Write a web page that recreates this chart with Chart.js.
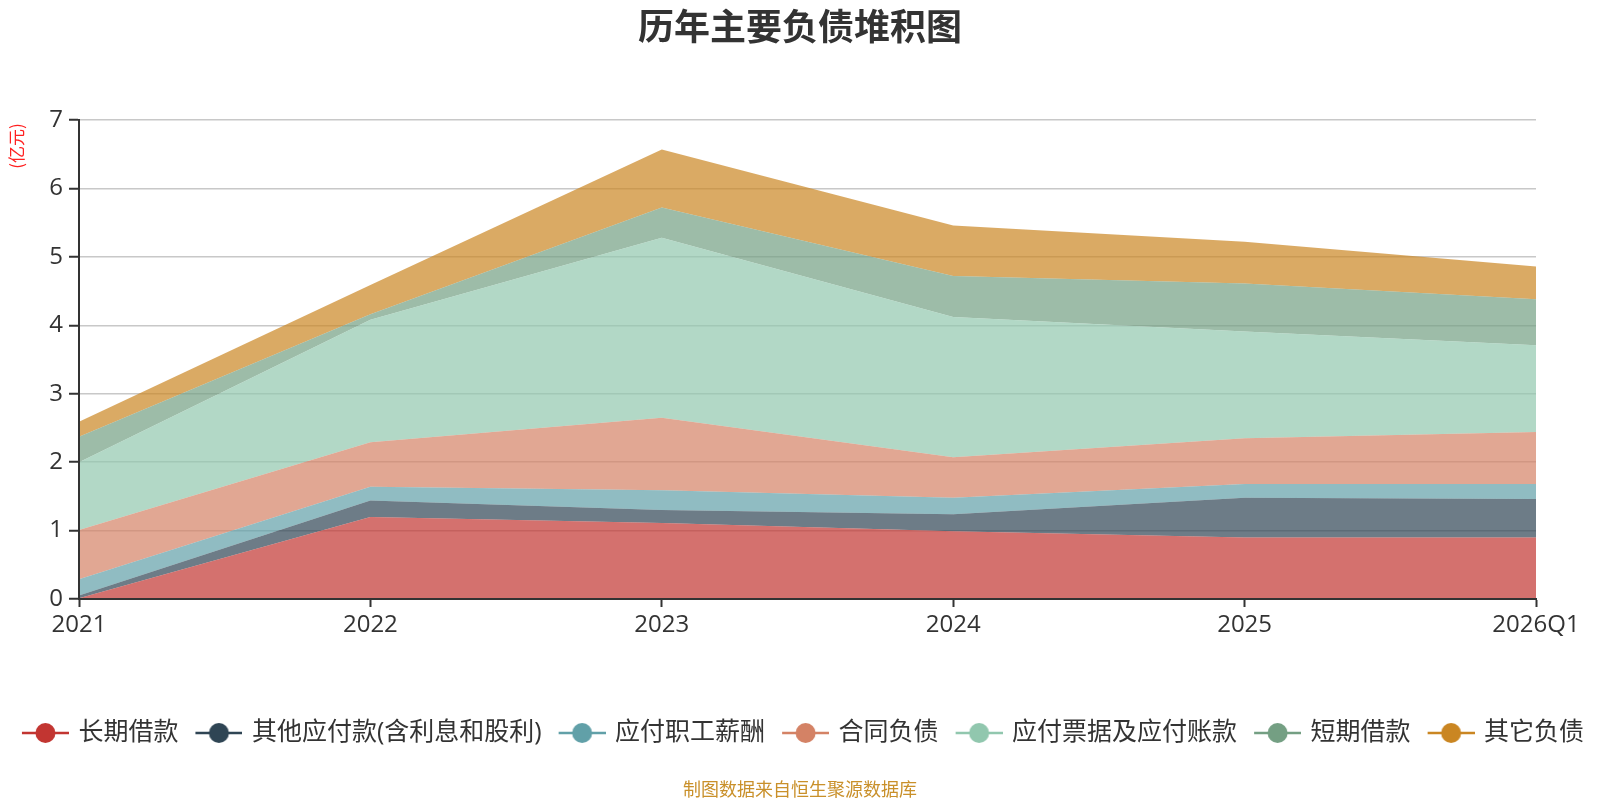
<!DOCTYPE html>
<html>
<head>
<meta charset="utf-8">
<script src="https://cdn.jsdelivr.net/npm/chart.js@4/dist/chart.umd.min.js"></script>
<style>
  html, body { margin: 0; padding: 0; background: #fff; }
  #wrap { width: 1600px; height: 800px; }
</style>
</head>
<body>
<div id="wrap"><canvas id="chart" width="1600" height="800"></canvas></div>
<script>
// categories and series (亿元)
const years = ["2021", "2022", "2023", "2024", "2025", "2026Q1"];
const seriesNames = ["长期借款", "其他应付款(含利息和股利)", "应付职工薪酬", "合同负债", "应付票据及应付账款", "短期借款", "其它负债"];
const longLoans   = [0.01, 1.20, 1.11, 0.99, 0.90, 0.90];
const otherPay    = [0.04, 0.24, 0.19, 0.25, 0.58, 0.56];
const staffPay    = [0.24, 0.20, 0.29, 0.24, 0.20, 0.22];
const contractLia = [0.72, 0.65, 1.06, 0.59, 0.67, 0.76];
const billsPay    = [0.99, 1.79, 2.63, 2.05, 1.56, 1.27];
const shortLoans  = [0.37, 0.08, 0.44, 0.60, 0.70, 0.67];
const otherLia    = [0.22, 0.43, 0.85, 0.74, 0.61, 0.48];
const yTicks = [0, 1, 2, 3, 4, 5, 6, 7];

const colors = ["#c23531", "#2f4554", "#61a0a8", "#d48265", "#91c7ae", "#749f83", "#ca8622"];
const allSeries = [longLoans, otherPay, staffPay, contractLia, billsPay, shortLoans, otherLia];

function hexToRgba(hex, a) {
    const n = parseInt(hex.slice(1), 16);
    return "rgba(" + (n >> 16) + "," + ((n >> 8) & 255) + "," + (n & 255) + "," + a + ")";
}

// legend icon: line with a dot in the middle (a bit of blank space on the left)
function makeIcon(color) {
    const c = document.createElement("canvas");
    c.width = 56;
    c.height = 24;
    const g = c.getContext("2d");
    g.strokeStyle = color;
    g.lineWidth = 2.5;
    g.beginPath();
    g.moveTo(9, 12);
    g.lineTo(56, 12);
    g.stroke();
    g.fillStyle = color;
    g.beginPath();
    g.arc(32.5, 12, 10, 0, Math.PI * 2);
    g.fill();
    return c;
}
const icons = colors.map(makeIcon);

Chart.defaults.font.family = '"Open Sans", "Noto Sans CJK SC", sans-serif';
Chart.defaults.color = "#333";

const datasets = allSeries.map((vals, i) => ({
    label: seriesNames[i],
    data: vals,
    backgroundColor: hexToRgba(colors[i], 0.7),
    borderColor: "transparent",
    borderWidth: 0,
    pointRadius: 0,
    pointHoverRadius: 0,
    tension: 0,
    fill: i === 0 ? "origin" : "-1"
}));

const extras = {
    id: "extras",
    afterDraw(chart) {
        const ctx = chart.ctx;
        ctx.save();
        // y axis unit
        ctx.translate(17, 146);
        ctx.rotate(-Math.PI / 2);
        ctx.fillStyle = "#ff2020";
        ctx.font = '17px "Noto Sans CJK SC", sans-serif';
        ctx.textAlign = "center";
        ctx.textBaseline = "middle";
        ctx.fillText("(亿元)", 0, 0);
        ctx.restore();

        ctx.save();
        ctx.fillStyle = "#c9902a";
        ctx.font = '18px "Noto Sans CJK SC", sans-serif';
        ctx.textAlign = "center";
        ctx.textBaseline = "middle";
        ctx.fillText("制图数据来自恒生聚源数据库", 800, 789);
        ctx.restore();
    }
};

const chart = new Chart(document.getElementById("chart").getContext("2d"), {
    type: "line",
    data: { labels: years, datasets },
    options: {
        responsive: false,
        animation: false,
        layout: { padding: { left: 0, right: 0, top: 0, bottom: 44.5 } },
        plugins: {
            title: {
                display: true,
                text: "历年主要负债堆积图",
                color: "#333",
                font: { size: 36, weight: "bold", family: '"Noto Sans CJK SC", sans-serif' },
                padding: { top: 5, bottom: 71.8 }
            },
            legend: {
                position: "bottom",
                labels: {
                    usePointStyle: true,
                    pointStyleWidth: 50,
                    padding: 11,
                    color: "#333",
                    font: { size: 25 },
                    generateLabels: chart => Chart.defaults.plugins.legend.labels.generateLabels(chart)
                        .map((l, i) => Object.assign(l, { pointStyle: icons[i] }))
                }
            },
            tooltip: { enabled: false }
        },
        scales: {
            x: {
                offset: false,
                grid: { drawOnChartArea: false, drawTicks: true, tickLength: 8, tickColor: "#333", tickWidth: 2 },
                border: { color: "#333", width: 2, z: 1 },
                ticks: { font: { size: 24 }, color: "#333", padding: 4, maxRotation: 0 },
                afterFit: s => { s.height = 110.5; }
            },
            y: {
                stacked: true,
                min: 0,
                max: 7,
                afterBuildTicks: s => { s.ticks = yTicks.map(v => ({ value: v })); },
                grid: { color: "#c8c8c8", lineWidth: 1.5, tickLength: 10, tickColor: "#333", tickWidth: 2 },
                border: { color: "#333", width: 2, z: 1 },
                ticks: { font: { size: 24 }, color: "#333", padding: 6 },
                afterFit: s => { s.width = 79; }
            },
            yR: {
                position: "right",
                display: true,
                grid: { display: false },
                border: { display: false },
                ticks: { display: false },
                afterFit: s => { s.width = 64; }
            }
        }
    },
    plugins: [extras]
});
</script>
</body>
</html>
